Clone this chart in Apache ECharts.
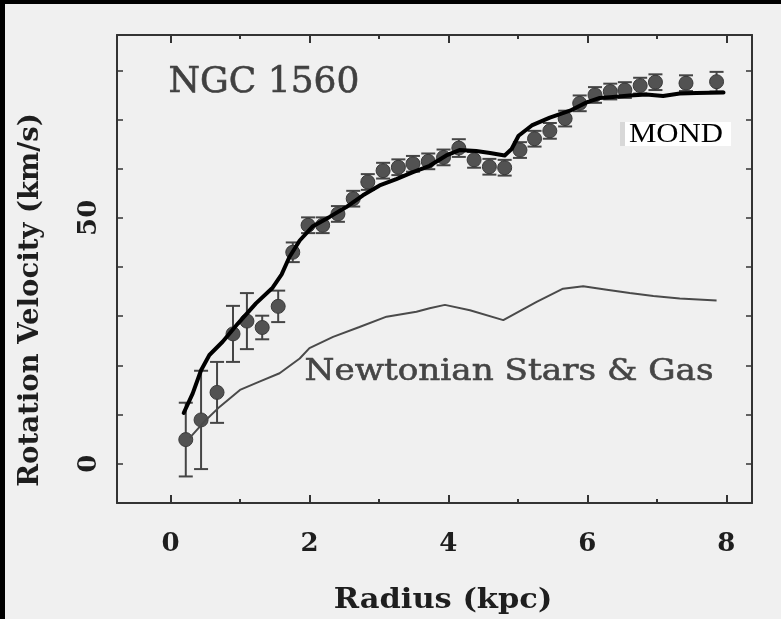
<!DOCTYPE html>
<html>
<head>
<meta charset="utf-8">
<script src="https://cdn.jsdelivr.net/npm/echarts@6/dist/echarts.min.js"></script>
<style>
html,body{margin:0;padding:0;background:#f0f0f0;}
#chart{width:781px;height:619px;}
</style>
</head>
<body>
<div id="chart"></div>
<script>
// Observed rotation curve of NGC 1560
const obsRadius = [0.22,0.44,0.67,0.90,1.10,1.32,1.55,1.76,1.98,2.19,2.41,2.63,2.84,3.06,3.28,3.49,3.71,3.93,4.15,4.37,4.59,4.81,5.03,5.24,5.46,5.68,5.89,6.11,6.33,6.54,6.76,6.98,7.42,7.86];
const obsVelocity = [4.9,8.9,14.5,26.4,29.0,27.7,32.0,43.0,48.5,48.5,50.8,53.9,57.3,59.6,60.3,61.0,61.5,62.3,64.2,61.8,60.4,60.2,63.8,66.1,67.7,70.2,73.3,75.0,75.7,76.0,76.9,77.6,77.4,77.7];
const obsError = [7.5,10.0,6.2,5.7,5.7,2.4,3.2,2.0,1.6,1.6,1.6,1.6,1.6,1.6,1.6,1.6,1.6,1.6,1.8,1.6,1.6,1.6,1.6,1.6,1.6,1.6,1.6,1.6,1.6,1.6,1.6,1.6,1.6,2.0];

// MOND prediction
const mondRadius = [0.19,0.32,0.44,0.56,0.75,0.97,1.23,1.47,1.60,1.71,1.86,2.05,2.29,2.53,2.77,3.01,3.25,3.49,3.73,3.97,4.16,4.40,4.60,4.81,4.91,5.01,5.20,5.46,5.75,5.99,6.18,6.37,6.61,6.85,7.09,7.33,7.57,7.96];
const mondVelocity = [10.3,14.3,19.0,22.1,24.8,28.5,32.6,35.8,38.5,42.0,45.4,48.3,50.2,52.2,54.6,56.6,57.9,59.3,60.6,62.7,63.8,63.6,63.2,62.7,64.0,66.7,68.8,70.4,71.8,73.5,74.4,74.6,74.9,75.1,74.8,75.3,75.4,75.5];

// Newtonian stars & gas
const newtRadius = [0.28,0.51,0.71,1.00,1.28,1.57,1.86,2.00,2.34,2.72,3.11,3.54,3.73,3.95,4.31,4.79,5.27,5.65,5.94,6.28,6.61,6.95,7.33,7.86];
const newtVelocity = [5.3,8.9,11.6,15.0,16.7,18.4,21.4,23.5,25.8,27.8,29.9,30.9,31.6,32.3,31.2,29.2,32.9,35.6,36.1,35.4,34.7,34.1,33.6,33.2];

// Axis ticks and labels
const xMajorTicks = [0,2,4,6,8];
const xMinorTicks = [1,3,5,7];
const yTicks = [0,10,20,30,40,50,60,70,80];
const yLabels = [0,50];

const X_MIN = -0.77, X_MAX = 8.37, Y_MIN = -8, Y_MAX = 87.2;
const FONT = 'DejaVu Serif';
const AX = '#333';

const chart = echarts.init(document.getElementById('chart'), null, {renderer:'canvas'});

function xAx(pos, ticks, len, showLine, labels){
  return {
    type:'value', min:X_MIN, max:X_MAX, position:pos, gridIndex:0,
    axisLine:{show:showLine, onZero:false, lineStyle:{color:AX, width:2}},
    axisTick:{show:true, inside:true, length:len, customValues:ticks, lineStyle:{color:AX, width:2}},
    axisLabel:labels ? {show:true, customValues:labels, margin:28, fontFamily:FONT, fontWeight:'bold', fontSize:26, color:'#1e1e1e'} : {show:false},
    splitLine:{show:false}
  };
}
function yAx(pos, labels){
  return {
    type:'value', min:Y_MIN, max:Y_MAX, position:pos, gridIndex:0,
    axisLine:{show:true, onZero:false, lineStyle:{color:AX, width:2}},
    axisTick:{show:true, inside:true, length:6, customValues:yTicks, lineStyle:{color:AX, width:1.5}},
    axisLabel:labels ? {show:true, customValues:labels, rotate:90, margin:15, fontFamily:FONT, fontWeight:'bold', fontSize:26, color:'#1e1e1e'} : {show:false},
    splitLine:{show:false}
  };
}

const errData = obsRadius.map((r,i)=>[r, obsVelocity[i]-obsError[i], obsVelocity[i]+obsError[i]]);

const option = {
  backgroundColor:'#f0f0f0',
  animation:false,
  grid:{left:117, right:29, top:35, bottom:116, containLabel:false},
  xAxis:[
    xAx('bottom', xMajorTicks, 8, true, xMajorTicks),
    xAx('bottom', xMinorTicks, 4, false, null),
    xAx('top', xMajorTicks, 8, true, null),
    xAx('top', xMinorTicks, 4, false, null)
  ],
  yAxis:[ yAx('left', yLabels), yAx('right', null) ],
  series:[
    {
      type:'custom', name:'errors', xAxisIndex:0, yAxisIndex:0, z:3,
      data:errData,
      encode:{x:0, y:[1,2]},
      renderItem:function(params, api){
        const x = api.value(0);
        const lo = api.coord([x, api.value(1)]);
        const hi = api.coord([x, api.value(2)]);
        const w = 7;
        const st = {stroke:'#454545', lineWidth:2};
        return {type:'group', children:[
          {type:'line', shape:{x1:lo[0], y1:lo[1], x2:hi[0], y2:hi[1]}, style:st},
          {type:'line', shape:{x1:lo[0]-w, y1:lo[1], x2:lo[0]+w, y2:lo[1]}, style:st},
          {type:'line', shape:{x1:hi[0]-w, y1:hi[1], x2:hi[0]+w, y2:hi[1]}, style:st}
        ]};
      }
    },
    {
      type:'scatter', name:'observed', xAxisIndex:0, yAxisIndex:0, z:4,
      data:obsRadius.map((r,i)=>[r, obsVelocity[i]]),
      symbol:'circle', symbolSize:14,
      itemStyle:{color:'#525252', borderColor:'#3a3a3a', borderWidth:1, opacity:1}
    },
    {
      type:'line', name:'Newtonian', xAxisIndex:0, yAxisIndex:0, z:5,
      data:newtRadius.map((r,i)=>[r, newtVelocity[i]]),
      showSymbol:false, symbol:'none',
      lineStyle:{color:'#4a4a4a', width:2}
    },
    {
      type:'line', name:'MOND', xAxisIndex:0, yAxisIndex:0, z:6,
      data:mondRadius.map((r,i)=>[r, mondVelocity[i]]),
      showSymbol:false, symbol:'none',
      lineStyle:{color:'#000', width:4, join:'round', cap:'round'}
    }
  ],
  graphic:[
    {type:'rect', left:0, top:0, shape:{width:781, height:4}, style:{fill:'#000'}, z:100},
    {type:'rect', left:0, top:0, shape:{width:5, height:619}, style:{fill:'#000'}, z:100},
    {type:'text', x:264, y:83, z:50, style:{text:'NGC 1560', fontFamily:FONT, fontSize:36, fill:'#404040', align:'center', verticalAlign:'middle', stroke:'#404040', lineWidth:0.6}},
    {type:'text', x:509, y:372, scaleX:1.14, z:50, style:{text:'Newtonian Stars & Gas', fontFamily:FONT, fontSize:30, fill:'#454545', align:'center', verticalAlign:'middle', stroke:'#454545', lineWidth:0.6}},
    {type:'text', x:443, y:601, scaleX:1.09, z:50, style:{text:'Radius (kpc)', fontFamily:FONT, fontWeight:'bold', fontSize:28, fill:'#1e1e1e', align:'center', verticalAlign:'middle'}},
    {type:'text', x:31, y:300, rotation:Math.PI/2, scaleX:1.02, z:50, style:{text:'Rotation Velocity (km/s)', fontFamily:FONT, fontWeight:'bold', fontSize:27, fill:'#1e1e1e', align:'center', verticalAlign:'middle'}},
    {type:'rect', x:620, y:122, z:50, shape:{width:6, height:24}, style:{fill:'#d8d8d8'}},
    {type:'rect', x:625, y:122, z:51, shape:{width:106, height:24}, style:{fill:'#ffffff'}},
    {type:'text', x:676, y:135, scaleX:1.1, z:52, style:{text:'MOND', fontFamily:'Liberation Serif', fontSize:28, fill:'#000', align:'center', verticalAlign:'middle'}}
  ]
};
chart.setOption(option);
</script>
</body>
</html>
